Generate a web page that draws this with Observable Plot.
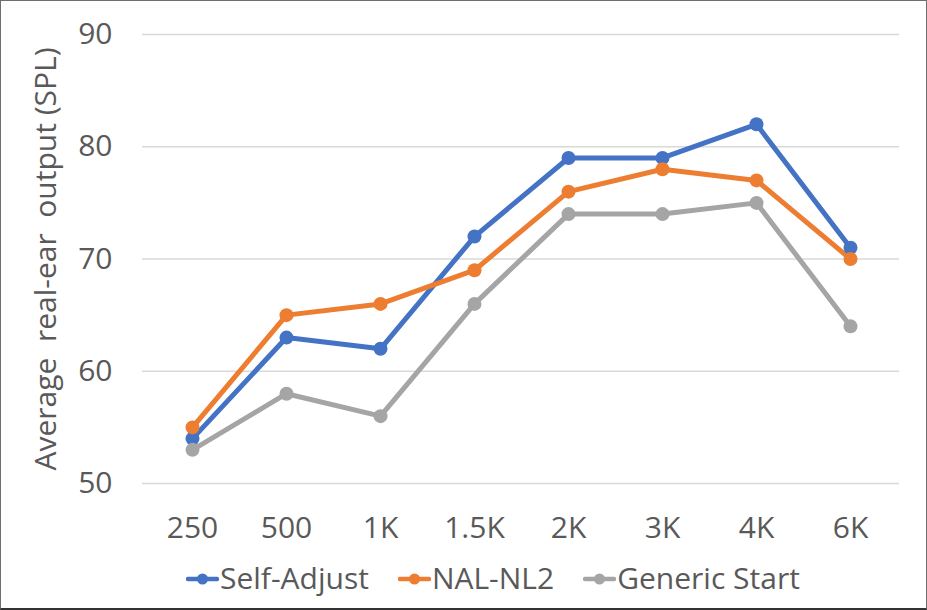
<!DOCTYPE html>
<html>
<head>
<meta charset="utf-8">
<script src="https://cdn.jsdelivr.net/npm/d3@7"></script>
<script src="https://cdn.jsdelivr.net/npm/@observablehq/plot@0.6"></script>
<style>
  html, body { margin: 0; padding: 0; background: #fff; }
  #frame { width: 927px; height: 610px; box-sizing: border-box; border: 1px solid #6e6e6e; border-bottom: 2px solid #333; overflow: hidden; position: relative; background: #fff; }
  #legend { position: absolute; left: 0; top: 556px; display: flex; align-items: center; box-sizing: border-box; padding-left: 185px; font-family: "Open Sans", sans-serif; font-size: 30px; line-height: 42px; color: #595959; white-space: nowrap; }
  .item { display: flex; align-items: center; margin-right: 29px; }
  .item svg { margin-right: 1px; margin-top: 2px; }
</style>
</head>
<body>
<div id="frame">
  <div id="chart"></div>
  <div id="legend"></div>
</div>
<script>
const categories = ["250", "500", "1K", "1.5K", "2K", "3K", "4K", "6K"];
const seriesNames = ["Self-Adjust", "NAL-NL2", "Generic Start"];
const selfAdjust = [54, 63, 62, 72, 79, 79, 82, 71];
const nalNl2 = [55, 65, 66, 69, 76, 78, 77, 70];
const genericStart = [53, 58, 56, 66, 74, 74, 75, 64];
const colors = ["#4472C4", "#ED7D31", "#A5A5A5"];
const yTicks = [50, 60, 70, 80, 90];

const seriesValues = [selfAdjust, nalNl2, genericStart];
const data = [];
seriesNames.forEach((s, i) => {
  categories.forEach((c, j) => data.push({series: s, freq: c, value: seriesValues[i][j]}));
});

const font = '"Open Sans", sans-serif';
const chart = Plot.plot({
  width: 925,
  height: 555,
  marginLeft: 141,
  marginRight: 27,
  marginTop: 33,
  marginBottom: 73,
  style: {fontFamily: font, fontSize: "30px", color: "#595959", background: "#fff"},
  x: {type: "point", domain: categories, padding: 0.5},
  y: {domain: [50, 90]},
  color: {domain: seriesNames, range: colors},
  marks: [
    Plot.gridY(yTicks, {stroke: "#d9d9d9", strokeOpacity: 1, strokeWidth: 1.3}),
    Plot.axisY(yTicks, {tickSize: 0, tickPadding: 30, fontSize: 30, fill: "#595959",
      label: "Average  real-ear  output (SPL)", labelAnchor: "center", labelArrow: "none", labelOffset: 108}),
    Plot.axisX({tickSize: 0, tickPadding: 33, fontSize: 30, fill: "#595959", label: null}),
    Plot.line(data, {x: "freq", y: "value", z: "series", stroke: "series", strokeWidth: 5, strokeLinejoin: "round", strokeLinecap: "round"}),
    Plot.dot(data, {x: "freq", y: "value", fill: "series", r: 7})
  ]
});
document.getElementById("chart").appendChild(chart);

const legend = document.getElementById("legend");
seriesNames.forEach((s, i) => {
  const item = document.createElement("div");
  item.className = "item";
  item.innerHTML = `<svg width="33" height="16"><line x1="2" x2="31" y1="8" y2="8" stroke="${colors[i]}" stroke-width="4.5" stroke-linecap="round"/><circle cx="16.5" cy="8" r="5.5" fill="${colors[i]}"/></svg><span>${s}</span>`;
  legend.appendChild(item);
});
</script>
</body>
</html>
